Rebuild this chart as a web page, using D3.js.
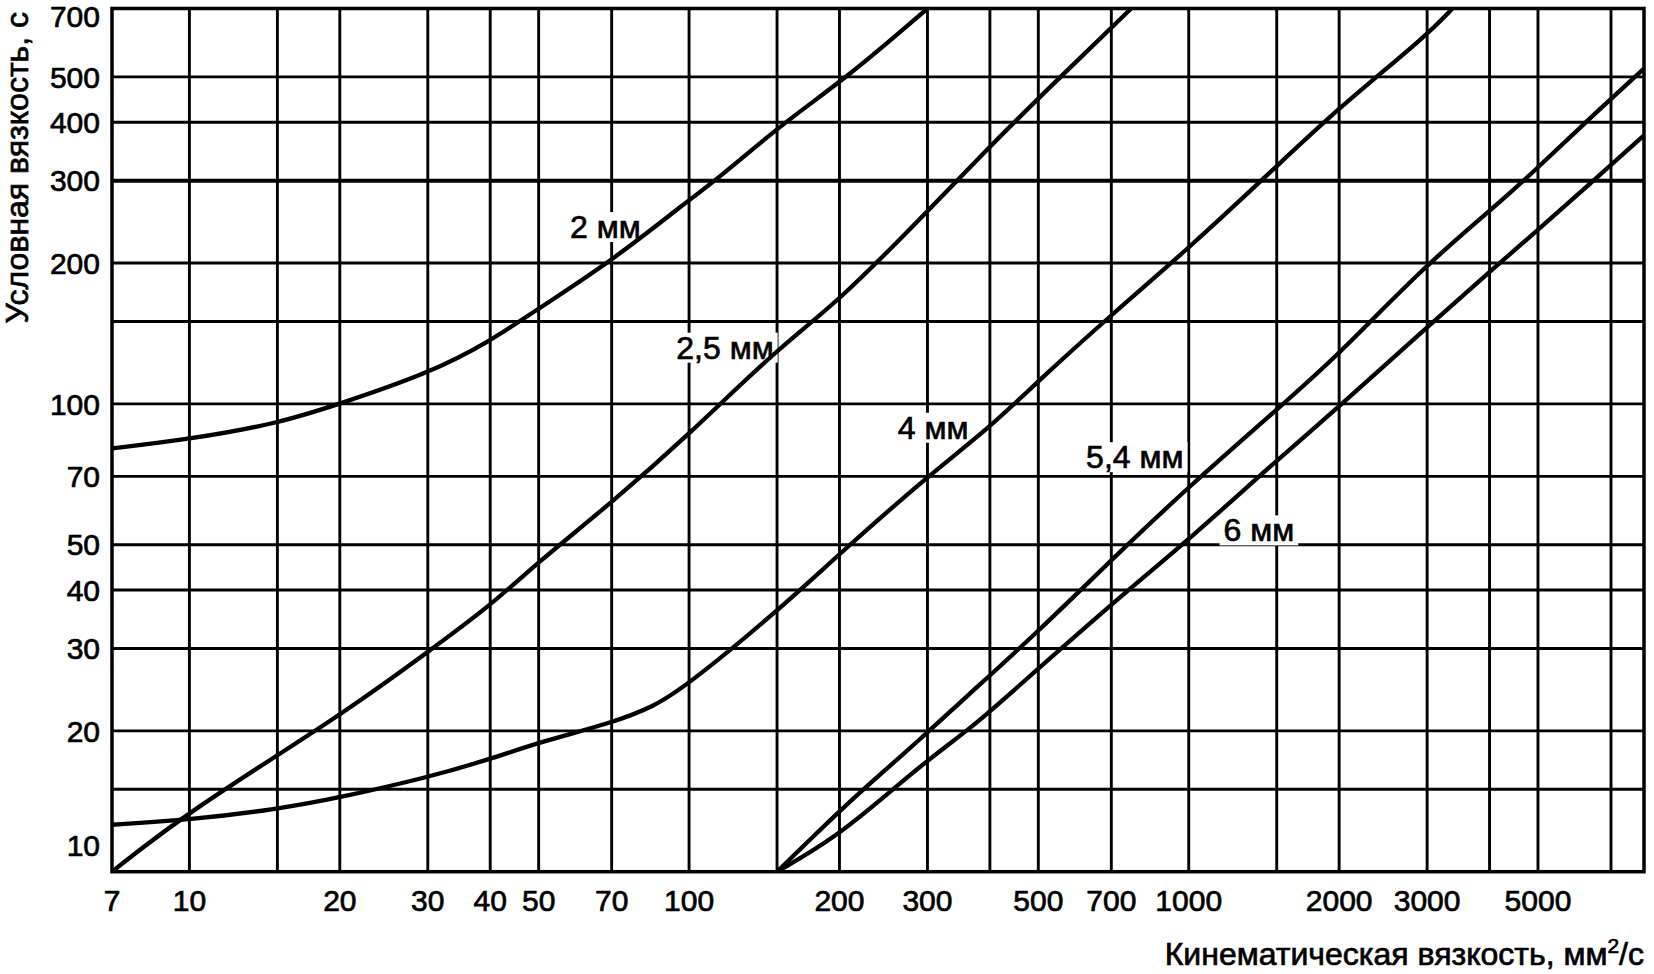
<!DOCTYPE html>
<html>
<head>
<meta charset="utf-8">
<script src="https://cdn.jsdelivr.net/npm/d3@7"></script>
<style>
  html, body { margin: 0; padding: 0; background: #fff; }
  svg { display: block; }
  text { font-family: "Liberation Sans", Arial, sans-serif; fill: #000; stroke: #000; stroke-width: 0.7px; }
</style>
</head>
<body>
<svg id="chart" width="1654" height="974"></svg>
<script>
// ---------- data ----------
const xTickValues = [7, 10, 20, 30, 40, 50, 70, 100, 200, 300, 500, 700, 1000, 2000, 3000, 5000];
const xGridValues = [10, 15, 20, 30, 40, 50, 70, 100, 150, 200, 300, 400, 500, 700, 1000, 1500, 2000, 3000, 4000, 5000, 7000];
const yTickValues = [10, 20, 30, 40, 50, 70, 100, 200, 300, 400, 500, 700];
const yGridValues = [15, 20, 30, 40, 50, 70, 100, 150, 200, 300, 400, 500];
const yBoldGrid = [300];

const xTitle = "Кинематическая вязкость, мм";
const xTitleSup = "2";
const xTitleEnd = "/с";
const yTitle = "Условная вязкость, с";

// [kinematic viscosity mm2/s, conventional viscosity s]
const curve2mm = [[7, 80.3], [10, 84], [15, 90.7], [20, 100], [30, 116], [40, 136], [50, 160],
  [70, 202], [100, 273], [113, 300], [155, 400], [208, 500], [300, 700]];
const curve25mm = [[7, 10], [10, 13.5], [20, 21.5], [30, 29.5], [40, 37], [50, 46],
  [70, 61.5], [100, 86], [150, 131], [200, 166], [300, 258],
  [400, 355], [500, 450], [767, 700]];
const curve4mm = [[7, 12.6], [10, 12.9], [15, 13.6], [20, 14.4], [30, 15.9], [40, 17.4],
  [50, 18.9], [70, 20.8], [85, 22.5], [100, 25.2], [150, 36], [200, 47.8], [300, 70], [400, 89],
  [500, 112], [700, 155], [1000, 215], [1500, 322], [2000, 430], [3000, 614], [3370, 700]];
const curve54mm = [[150, 10], [196, 13.2], [223, 15], [292, 19.3], [353, 23.3], [497, 32.4],
  [728, 48.3], [1000, 66.5], [1523, 98.6], [1975, 126], [2947, 196], [4100, 264],
  [4982, 318.6], [6017, 386.6], [8150, 521]];
const curve6mm = [[150, 10], [196, 11.8], [256, 15], [292, 16.9], [377, 20.8], [425, 23.3],
  [728, 38.7], [1000, 51.2], [1476, 74.6], [2000, 98.6], [3000, 146], [4100, 196],
  [5000, 235.5], [6257, 291], [8150, 375]];

const curveNames = ["2 мм", "2,5 мм", "4 мм", "5,4 мм", "6 мм"];
const curveData = [curve2mm, curve25mm, curve4mm, curve54mm, curve6mm];
// label anchors in data units (centre of text)
const labelX = [68, 118, 308, 780, 1382];
const labelY = [239, 132, 89, 77, 53.7];

// ---------- layout ----------
const plot = { left: 112, right: 1644, top: 8.5, bottom: 871.7 };
const TICK_FONT = 30;
const LABEL_FONT = 32;
const TITLE_FONT = 32;

const svg = d3.select("#chart");

const x = d3.scaleLog().domain([7, 8150]).range([plot.left, plot.right]);
const y = d3.scaleLog().domain([10, 700]).range([plot.bottom, plot.top]);

svg.append("defs").append("clipPath").attr("id", "clip")
  .append("rect")
  .attr("x", plot.left).attr("y", plot.top)
  .attr("width", plot.right - plot.left).attr("height", plot.bottom - plot.top);

// gridlines
const grid = svg.append("g").attr("class", "grid");
grid.selectAll("line.v").data(xGridValues).join("line")
  .attr("class", "v")
  .attr("x1", d => x(d)).attr("x2", d => x(d))
  .attr("y1", plot.top).attr("y2", plot.bottom)
  .attr("stroke", "#000").attr("stroke-width", 2.9);
grid.selectAll("line.h").data(yGridValues).join("line")
  .attr("class", "h")
  .attr("x1", plot.left).attr("x2", plot.right)
  .attr("y1", d => y(d)).attr("y2", d => y(d))
  .attr("stroke", "#000").attr("stroke-width", d => yBoldGrid.includes(d) ? 4 : 2.9);

// frame
svg.append("rect")
  .attr("x", plot.left).attr("y", plot.top)
  .attr("width", plot.right - plot.left).attr("height", plot.bottom - plot.top)
  .attr("fill", "none").attr("stroke", "#000").attr("stroke-width", 3.5);

// curve label backgrounds (knock out the grid behind the text)
const labBg = svg.append("g");
const curvesG = svg.append("g").attr("clip-path", "url(#clip)");
const labText = svg.append("g");

curveNames.forEach((name, i) => {
  const t = labText.append("text")
    .attr("x", x(labelX[i])).attr("y", y(labelY[i]))
    .attr("text-anchor", "middle").attr("dy", "0.35em")
    .attr("font-size", LABEL_FONT).text(name);
  const b = t.node().getBBox();
  labBg.append("rect")
    .attr("x", b.x - 4).attr("y", b.y + 3)
    .attr("width", b.width + 8).attr("height", b.height - 6)
    .attr("fill", "#fff");
});

// curves
const line = d3.line().x(d => x(d[0])).y(d => y(d[1])).curve(d3.curveBasis);
curvesG.selectAll("path").data(curveData).join("path")
  .attr("d", line)
  .attr("fill", "none").attr("stroke", "#000").attr("stroke-width", 4.3)
  .attr("stroke-linejoin", "round").attr("stroke-linecap", "round");

// x tick labels
svg.append("g").selectAll("text").data(xTickValues).join("text")
  .attr("x", d => x(d)).attr("y", plot.bottom + 39)
  .attr("text-anchor", "middle").attr("font-size", TICK_FONT)
  .text(d => d);

// y tick labels (top label pushed into view, bottom label raised above x labels)
const yShift = d => d === y.domain()[1] ? 8 : (d === y.domain()[0] ? -27 : 0);
svg.append("g").selectAll("text").data(yTickValues).join("text")
  .attr("x", plot.left - 12).attr("y", d => y(d) + yShift(d))
  .attr("dy", "0.36em")
  .attr("text-anchor", "end").attr("font-size", TICK_FONT)
  .text(d => d);

// axis titles
const xt = svg.append("text")
  .attr("x", plot.right).attr("y", 965)
  .attr("text-anchor", "end").attr("font-size", TITLE_FONT);
xt.append("tspan").text(xTitle);
xt.append("tspan").attr("dy", -12).attr("font-size", 21).text(xTitleSup);
xt.append("tspan").attr("dy", 12).text(xTitleEnd);

svg.append("text")
  .attr("transform", `translate(28, 12) rotate(-90)`)
  .attr("text-anchor", "end").attr("font-size", TITLE_FONT)
  .text(yTitle);
</script>
</body>
</html>
